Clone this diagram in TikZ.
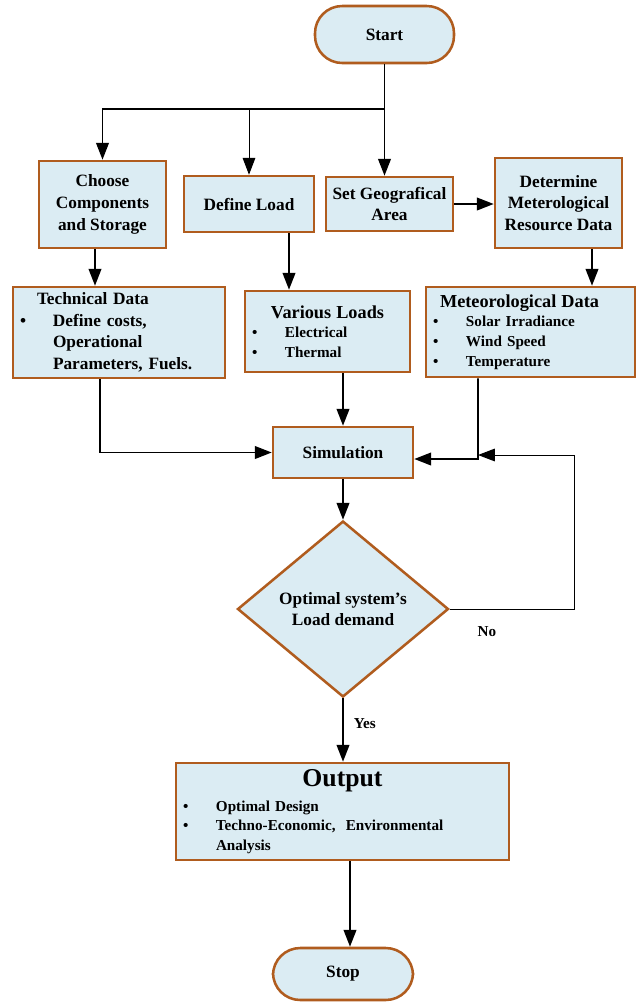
\documentclass[tikz,border=0pt]{standalone}
\usepackage{fontspec}
\setmainfont{Liberation Serif}
\usetikzlibrary{shapes.geometric, arrows.meta}

\definecolor{boxfill}{RGB}{219,236,243}
\definecolor{boxedge}{RGB}{176,92,30}

\newcommand{\bitem}{\makebox[0.825cm][l]{\textbullet}}
\newcommand{\bskip}{\hspace*{0.825cm}}

\begin{document}
\begin{tikzpicture}[
    box/.style={draw=boxedge, fill=boxfill, line width=1.8pt, align=center, inner sep=0pt, font=\fontsize{12.3}{15.4}\selectfont\bfseries},
    listbox/.style={box, align=left, inner xsep=0.175cm},
    smalllist/.style={listbox, font=\fontsize{10.8}{13.9}\selectfont\bfseries},
    term/.style={box, rounded corners=0.68cm},
    decide/.style={box, diamond, aspect=1.2},
    arrow/.style={-{Triangle[length=12pt,width=9pt]}, line width=1.3pt},
    thinarrow/.style={arrow, line width=0.7pt},
    lbl/.style={font=\fontsize{10.8}{13}\selectfont\bfseries, inner sep=0pt}
]
\useasboundingbox (0,0) rectangle (16.075,-25.075);

% Terminals
\node[term, minimum width=3.475cm, minimum height=1.425cm] (start) at (9.6125,-0.8625) {Start};

% First row
\node[box, minimum width=3.175cm, minimum height=2.175cm] (choose) at (2.5625,-5.1125) {Choose\\Components\\and Storage};
\node[box, minimum width=3.25cm, minimum height=1.4cm] (defload) at (6.225,-5.1) {Define Load};
\node[box, minimum width=3.175cm, minimum height=1.35cm] (setgeo) at (9.7375,-5.1) {Set Geografical\\Area};
\node[box, minimum width=3.175cm, minimum height=2.25cm] (determine) at (13.9625,-5.075) {Determine\\Meterological\\Resource Data};

% Data row
\node[listbox, text width=4.95cm, minimum height=2.275cm] (techdata) at (2.975,-8.3125) {\hspace*{0.425cm}Technical Data\\ \bitem Define costs,\\ \bskip Operational\\ \bskip Parameters, Fuels.};
\node[smalllist, text width=3.775cm, minimum height=2.025cm] (loads) at (8.1875,-8.2875) {\makebox[3.775cm]{\fontsize{13}{13.9}\selectfont Various Loads}\\ \bitem Electrical\\ \bitem Thermal};
\node[smalllist, text width=4.875cm, minimum height=2.25cm] (meteo) at (13.2625,-8.3) {\hspace*{0.175cm}{\fontsize{13}{13.9}\selectfont Meteorological Data}\\ \bitem Solar Irradiance\\ \bitem Wind Speed\\ \bitem Temperature};

% Simulation and decision
\node[box, minimum width=3.5cm, minimum height=1.275cm] (sim) at (8.575,-11.3125) {Simulation};
\node[decide, minimum width=5.275cm, minimum height=4.4cm] (decision) at (8.575,-15.225) {Optimal system’s\\Load demand};

% Output and stop
\node[smalllist, text width=7.975cm, minimum height=2.425cm] (output) at (8.5625,-20.2875) {\makebox[7.975cm]{\fontsize{18.3}{18.3}\selectfont Output}\\[4pt] \bitem Optimal Design\\ \bitem Techno-Economic,\ \ Environmental\\ \bskip Analysis};
\node[term, minimum width=3.5cm, minimum height=1.3cm] (stop) at (8.575,-24.35) {Stop};

% Joints
\coordinate (split) at (9.6125,-2.725);
\coordinate (metjoin) at (11.95,-11.475);
\coordinate (loop) at (14.35,-11.375);

% Arrows
\draw[arrow] (start.south) -- (split) -- (split |- setgeo.north);
\draw[arrow] (split) -| (choose.north);
\draw[thinarrow] (split -| defload.north) -- (defload.north);
\draw[arrow] (setgeo.east) -- (setgeo.east -| determine.west);
\draw[arrow] ([xshift=-0.1875cm]choose.south) -- ([xshift=-0.1875cm]choose.south |- techdata.north);
\draw[arrow] ([xshift=1cm]defload.south) -- ([xshift=1cm]defload.south |- loads.north);
\draw[arrow] ([xshift=0.8375cm]determine.south) -- ([xshift=0.8375cm]determine.south |- meteo.north);
\draw[arrow] ([xshift=-0.475cm]techdata.south) |- (sim.west);
\draw[arrow] (loads.south -| sim.north) -- (sim.north);
\draw[arrow] ([xshift=-1.3125cm]meteo.south) -- (metjoin) -- (metjoin -| sim.east);
\draw[arrow] (sim.south) -- (decision.north);
\draw[thinarrow] (decision.east) -| (loop) -- (loop -| metjoin);
\node[lbl] (no) at (12.175,-15.8) {No};
\draw[arrow] (decision.south) -- node[lbl, right=7pt, pos=0.4] {Yes} (decision.south |- output.north);
\draw[arrow] ([xshift=0.1875cm]output.south) -- ([xshift=0.1875cm]output.south |- stop.north);

\end{tikzpicture}
\end{document}
